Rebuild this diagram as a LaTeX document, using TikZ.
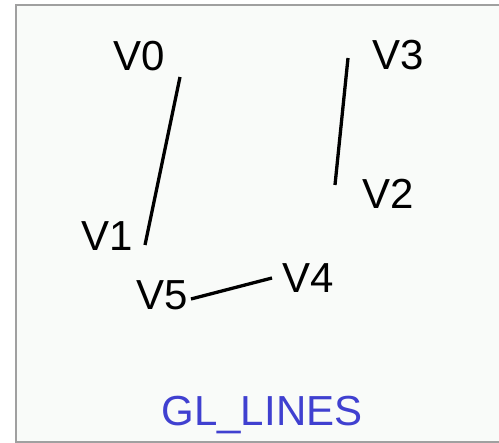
\documentclass[tikz,border=0pt]{standalone}
\usepackage{fontspec}
\setmainfont{Liberation Sans}
\definecolor{bgc}{RGB}{249,251,249}
\definecolor{framec}{RGB}{160,160,160}
\definecolor{titlec}{RGB}{64,64,208}
\tikzset{
  lbl/.style={inner sep=0pt, font=\fontsize{42}{42}\selectfont},
  seg/.style={line width=3.3pt, black},
}
\begin{document}
\begin{tikzpicture}[x=1pt,y=-1pt]
\useasboundingbox (0,0) rectangle (499,443);
\begin{scope}
\clip (0,0) rectangle (499,443);
\draw[framec, line width=2.5pt, fill=bgc] (16,5) rectangle (515,442);
\end{scope}
\coordinate (v0) at (180,77);
\coordinate (v1) at (145,245);
\coordinate (v2) at (335,185);
\coordinate (v3) at (348,58);
\coordinate (v4) at (272,278);
\coordinate (v5) at (191,299);
\draw[seg] (v0) -- (v1);
\draw[seg] (v3) -- (v2);
\draw[seg] (v4) -- (v5);
\node[lbl] (l0) at (139,56) {V0};
\node[lbl] (l1) at (107,236) {V1};
\node[lbl] (l2) at (388,194) {V2};
\node[lbl] (l3) at (398,55) {V3};
\node[lbl] (l4) at (308,278) {V4};
\node[lbl] (l5) at (162,295) {V5};
\node[lbl, anchor=base, text=titlec] (title) at (262,426) {GL\_LINES};
\end{tikzpicture}
\end{document}
